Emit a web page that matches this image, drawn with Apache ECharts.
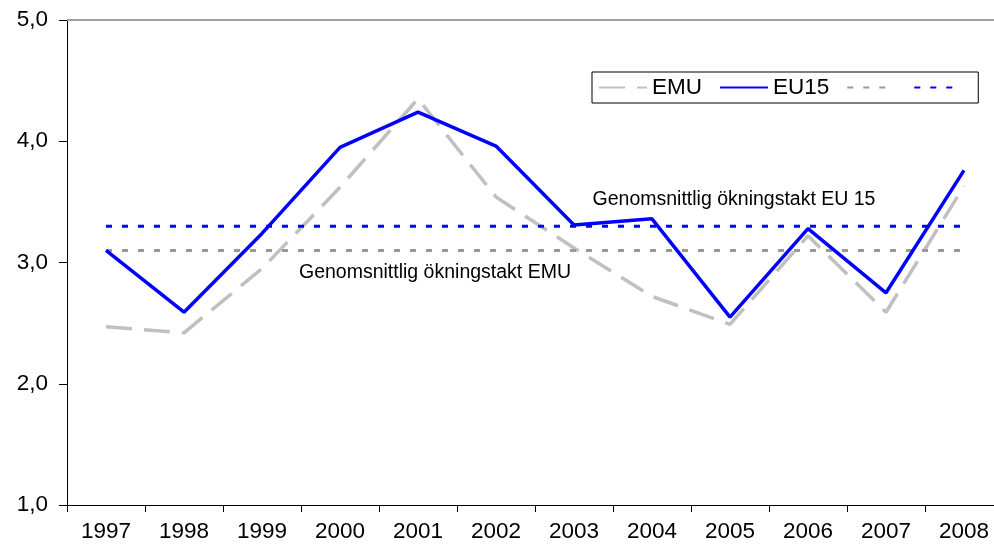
<!DOCTYPE html>
<html>
<head>
<meta charset="utf-8">
<script src="https://cdn.jsdelivr.net/npm/echarts@6/dist/echarts.min.js"></script>
<style>html,body{margin:0;padding:0;background:#fff}#c{width:994px;height:547px}</style>
</head>
<body>
<div id="c"></div>
<script>
var years = ['1997','1998','1999','2000','2001','2002','2003','2004','2005','2006','2007','2008'];
var emu = [2.47, 2.42, 2.95, 3.62, 4.35, 3.54, 3.12, 2.72, 2.49, 3.22, 2.59, 3.63];
var eu15 = [3.10, 2.59, 3.24, 3.95, 4.24, 3.96, 3.31, 3.36, 2.55, 3.28, 2.75, 3.76];
var avgEmu = [3.10, 3.10, 3.10, 3.10, 3.10, 3.10, 3.10, 3.10, 3.10, 3.10, 3.10, 3.10];
var avgEu15 = [3.30, 3.30, 3.30, 3.30, 3.30, 3.30, 3.30, 3.30, 3.30, 3.30, 3.30, 3.30];
var yTicks = [1, 2, 3, 4, 5];
var labelEu15 = 'Genomsnittlig ökningstakt EU 15';
var labelEmu = 'Genomsnittlig ökningstakt EMU';

var chart = echarts.init(document.getElementById('c'));
var font = 'Arial, "Liberation Sans", sans-serif';
chart.setOption({
  animation: false,
  textStyle: {fontFamily: font},
  grid: {left: 67, right: -9, top: 20, bottom: 42, containLabel: false, outerBoundsMode: 'none'},
  legend: {
    left: 592, top: 72,
    data: ['EMU', 'EU15', 'avgEmu', 'avgEu15'],
    formatter: function (n) { return (n === 'EMU' || n === 'EU15') ? n : ''; },
    borderColor: '#000', borderWidth: 1, backgroundColor: '#fff',
    padding: [4, 15, 4, 6],
    itemWidth: 48, itemHeight: 14, itemGap: 17,
    itemStyle: {opacity: 0},
    textStyle: {fontSize: 22.5, color: '#000', fontFamily: font}
  },
  xAxis: {
    type: 'category', data: years, boundaryGap: true,
    axisLine: {lineStyle: {color: '#000', width: 1}},
    axisTick: {show: true, length: 7, lineStyle: {color: '#000'}},
    axisLabel: {fontSize: 22.5, color: '#000', margin: 15, fontFamily: font},
    splitLine: {show: false}
  },
  yAxis: {
    type: 'value', min: 1, max: 5, interval: 1,
    axisLine: {show: true, lineStyle: {color: '#000', width: 1}},
    axisTick: {show: true, length: 8, lineStyle: {color: '#000'}},
    axisLabel: {fontSize: 22.5, color: '#000', margin: 19, fontFamily: font,
      formatter: function (v) { return yTicks.indexOf(v) >= 0 ? v.toFixed(1).replace('.', ',') : ''; }},
    splitLine: {show: false}
  },
  series: [
    {name: 'EMU', type: 'line', data: emu, symbol: 'none', z: 2,
     lineStyle: {color: '#c0c0c0', width: 3.5, type: [26, 12]},
     itemStyle: {color: '#c0c0c0'},
     markLine: {silent: true, symbol: 'none', label: {show: false},
       lineStyle: {color: '#a0a0a0', width: 2, type: 'solid'},
       data: [{yAxis: 5}]}},
    {name: 'EU15', type: 'line', data: eu15, symbol: 'none', z: 4,
     lineStyle: {color: '#0000ff', width: 3.5, type: 'solid'},
     itemStyle: {color: '#0000ff'}},
    {name: 'avgEmu', type: 'line', data: avgEmu, symbol: 'none', z: 3,
     lineStyle: {color: '#999999', width: 3, type: [6, 10]},
     itemStyle: {color: '#999999'},
     markPoint: {symbol: 'circle', symbolSize: 0, silent: true,
       label: {show: true, formatter: labelEmu, fontSize: 19.5, color: '#000', fontFamily: font, offset: [17, 0]},
       data: [{coord: ['2001', 2.92]}]}},
    {name: 'avgEu15', type: 'line', data: avgEu15, symbol: 'none', z: 3,
     lineStyle: {color: '#0000ff', width: 3, type: [6, 10]},
     itemStyle: {color: '#0000ff'},
     markPoint: {symbol: 'circle', symbolSize: 0, silent: true,
       label: {show: true, formatter: labelEu15, fontSize: 19.5, color: '#000', fontFamily: font, offset: [4, 0]},
       data: [{coord: ['2005', 3.515]}]}}
  ]
});
</script>
</body>
</html>
